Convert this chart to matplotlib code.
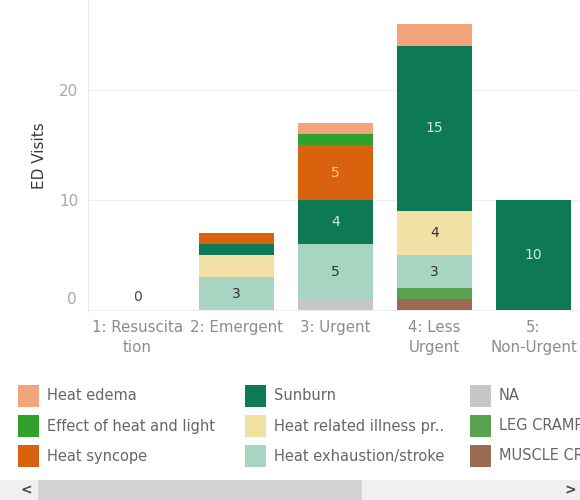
import matplotlib.pyplot as plt
import matplotlib.transforms as mtransforms
from matplotlib.patches import Rectangle

plt.rcParams["font.family"] = ["DejaVu Sans"]

categories = ["1: Resuscita\ntion", "2: Emergent", "3: Urgent", "4: Less\nUrgent", "5:\nNon-Urgent"]

# stacked from bottom to top
series_names = [
    "MUSCLE CRAMPS",
    "LEG CRAMPS",
    "NA",
    "Heat exhaustion/stroke",
    "Heat related illness pr..",
    "Sunburn",
    "Heat syncope",
    "Effect of heat and light",
    "Heat edema",
]
muscle_cramp = [0, 0, 0, 1, 0]
leg_cramp = [0, 0, 0, 1, 0]
na_vals = [0, 0, 1, 0, 0]
heat_exhaustion = [0, 3, 5, 3, 0]
heat_related = [0, 2, 0, 4, 0]
sunburn = [0, 1, 4, 15, 10]
heat_syncope = [0, 1, 5, 0, 0]
effect_heat_light = [0, 0, 1, 0, 0]
heat_edema = [0, 0, 1, 2, 0]

series_values = [
    muscle_cramp, leg_cramp, na_vals, heat_exhaustion, heat_related,
    sunburn, heat_syncope, effect_heat_light, heat_edema,
]
colors = {
    "MUSCLE CRAMPS": "#9b6a52",
    "LEG CRAMPS": "#5aa150",
    "NA": "#c9c6c6",
    "Heat exhaustion/stroke": "#a7d5c1",
    "Heat related illness pr..": "#f2e0a4",
    "Sunburn": "#0d7a55",
    "Heat syncope": "#d9620f",
    "Effect of heat and light": "#34a02c",
    "Heat edema": "#f2a47b",
}
label_colors = {
    "Sunburn": "#c9eedd",
    "Heat syncope": "#ffc89a",
}

# legend layout as Tableau shows it (column by column)
legend_order = [
    "Heat edema", "Effect of heat and light", "Heat syncope",
    "Sunburn", "Heat related illness pr..", "Heat exhaustion/stroke",
    "NA", "LEG CRAMPS", "MUSCLE CRAMPS",
]

fig = plt.figure(figsize=(5.8, 5.0), dpi=100)
ax = fig.add_axes([88 / 580, 188 / 500, 1 - 88 / 580, 312 / 500])

x = list(range(len(categories)))
bottom = [0] * len(categories)
for name, vals in zip(series_names, series_values):
    ax.bar(x, vals, bottom=bottom, width=0.76, color=colors[name], linewidth=0)
    for i, v in enumerate(vals):
        if v >= 3:
            ax.text(i, bottom[i] + v / 2, str(v), ha="center", va="center",
                    fontsize=10, color=label_colors.get(name, "#333333"))
    bottom = [b + v for b, v in zip(bottom, vals)]

# zero total for the first category
for i, tot in enumerate(bottom):
    if tot == 0:
        ax.text(i, 1.2, "0", ha="center", va="center", fontsize=10, color="#444444")

ax.set_xlim(-0.5, 4.47)
ax.set_ylim(-0.18, 28.18)
ax.set_xticks(x)
ax.set_xticklabels(categories, fontsize=10.8, color="#8c8c8c", linespacing=1.35)
ax.set_yticks([0, 10, 20])
ax.set_yticklabels(["0", "10", "20"], fontsize=11, color="#a8a8a8")
ax.tick_params(axis="both", length=0)
ax.tick_params(axis="x", pad=6)
ax.tick_params(axis="y", pad=7)

# Tableau lifts the bottom label a bit
lbl0 = ax.get_yticklabels()[0]
lbl0.set_transform(lbl0.get_transform() + mtransforms.ScaledTranslation(-0.02, 0.12, fig.dpi_scale_trans))

ax.set_ylabel("ED Visits", fontsize=11, color="#3a3a3a", labelpad=9)
ax.grid(axis="y", color="#efefef", linewidth=0.8)
ax.set_axisbelow(True)
for side in ["top", "right", "bottom"]:
    ax.spines[side].set_visible(False)
ax.spines["left"].set_color("#e8e8e8")

# legend, drawn in figure pixels
col_x = [18, 245, 470]
row_y = [396, 426, 456]
for k, name in enumerate(legend_order):
    cx = col_x[k // 3]
    cy = row_y[k % 3]
    fig.add_artist(Rectangle((cx / 580, 1 - (cy + 11) / 500), 21 / 580, 22 / 500,
                             transform=fig.transFigure, color=colors[name], lw=0))
    fig.text((cx + 29) / 580, 1 - cy / 500, name, fontsize=10.5, color="#666666",
             va="center", ha="left")

# scrollbar at the bottom
fig.add_artist(Rectangle((0, 0), 1, 20 / 500, transform=fig.transFigure,
                         color="#f0f0f0", lw=0))
fig.add_artist(Rectangle((38 / 580, 0), (362 - 38) / 580, 20 / 500,
                         transform=fig.transFigure, color="#d2d2d2", lw=0))
fig.text(26 / 580, 1 - 490 / 500, "<", fontsize=10, color="#444444", ha="center",
         va="center", fontweight="bold")
fig.text(570 / 580, 1 - 490 / 500, ">", fontsize=10, color="#444444", ha="center",
         va="center", fontweight="bold")

fig.savefig("out.png", dpi=100)
